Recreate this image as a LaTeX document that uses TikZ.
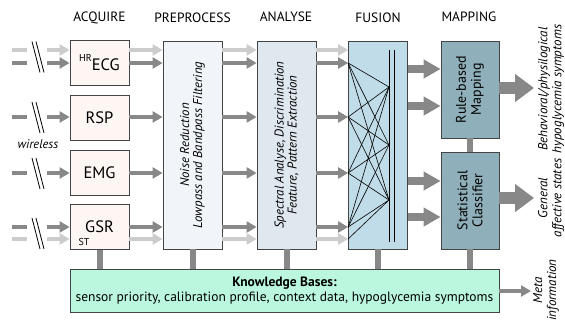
\documentclass[tikz,border=0pt]{standalone}
\usepackage{fontspec}
\setmainfont{PT Sans}
\usetikzlibrary{arrows.meta,positioning}
\definecolor{light}{HTML}{CCCCCC}
\definecolor{dark}{HTML}{888888}
\definecolor{boxline}{HTML}{444444}
\definecolor{acqfill}{HTML}{FDF6F3}
\definecolor{prefill}{HTML}{F1F5F9}
\definecolor{anafill}{HTML}{DFE7EF}
\definecolor{fusfill}{HTML}{BFDCE8}
\definecolor{mapfill}{HTML}{8FB0BA}
\definecolor{kbfill}{HTML}{BBF7DF}
\tikzset{
  box/.style={draw=boxline, line width=0.8pt, inner sep=0pt},
  acqbox/.style={box, fill=acqfill, minimum width=59pt, minimum height=45pt, font=\fontsize{16.5}{18}\selectfont},
  stagebox/.style={box, minimum width=59pt, minimum height=208pt},
  mapbox/.style={box, fill=mapfill, minimum width=58pt, minimum height=97pt},
  head/.style={font=\fontsize{13.5}{15}\selectfont},
  vtext/.style={rotate=90, align=center, font=\fontsize{12.8}{13}\selectfont\itshape},
  sig/.style={line width=4.5pt, -{Triangle[length=10pt,width=11pt]}},
  stub/.style={line width=4.5pt},
  bigsig/.style={line width=8pt, -{Triangle[length=17pt,width=18pt]}},
  outsig/.style={line width=12pt, -{Triangle[length=19pt,width=27pt]}},
  bar/.style={dark, line width=6pt},
}
\begin{document}
\begin{tikzpicture}[x=1pt, y=-1pt]
  \useasboundingbox (0,0) rectangle (565,320);
  % Boxes
  \node[acqbox] (ecg) at (99.5,63) {\raisebox{1.1ex}{\fontsize{10}{10}\selectfont HR}ECG};
  \node[acqbox] (rsp) at (99.5,117.5) {RSP};
  \node[acqbox] (emg) at (99.5,172.5) {EMG};
  \node[acqbox] (gsr) at (99.5,227) {GSR};
  \node[font=\fontsize{10}{10}\selectfont] (st) at (84,242) {ST};
  \node[stagebox, fill=prefill] (pre) at (192.5,145) {};
  \node[stagebox, fill=anafill] (ana) at (286.5,145) {};
  \node[stagebox, fill=fusfill] (fus) at (378,145) {};
  \node[mapbox] (rule) at (470,89.5) {};
  \node[mapbox] (stat) at (470,200.5) {};
  \node[box, fill=kbfill, minimum width=429pt, minimum height=43pt, align=center,
        font=\fontsize{13.5}{15}\selectfont] (kb) at (284.5,290.5)
        {\textbf{Knowledge Bases:}\\sensor priority, calibration profile, context data, hypoglycemia symptoms};
  % Box texts
  \node[vtext] (pretxt) at (pre) {Noise Reduction\\Lowpass and Bandpass Filtering};
  \node[vtext] (anatxt) at (ana) {Spectral Analyse, Discrimination\\Feature, Pattern Extraction};
  \node[vtext, font=\fontsize{14}{15}\selectfont] (ruletxt) at (rule) {Rule-based\\Mapping};
  \node[vtext, font=\fontsize{14}{15}\selectfont] (stattxt) at (stat) {Statistical\\Classifier};
  % Headers
  \node[head] (h1) at (99.5,18) {ACQUIRE};
  \node[head] (h2) at (192.5,18) {PREPROCESS};
  \node[head] (h3) at (286,17) {ANALYSE};
  \node[head] (h4) at (378,18) {FUSION};
  \node[head] (h5) at (469,17) {MAPPING};
  % Signals
  \foreach \y/\c/\s in {50/light/ecg,63/dark/ecg,117/dark/rsp,173/dark/emg,227/dark/gsr,239/light/gsr} {
    \coordinate (a\y) at (12,\y);
    \coordinate (b\y) at (27,\y);
    \coordinate (in\y) at (47,\y);
    \draw[stub,\c] (a\y) -- (b\y);
    \draw[sig,\c] (in\y) -- (\s.west |- 0,\y);
    \draw[sig,\c] (\s.east |- 0,\y) -- (pre.west |- 0,\y);
    \draw[sig,\c] (pre.east |- 0,\y) -- (ana.west |- 0,\y);
    \draw[sig,\c] (ana.east |- 0,\y) -- (fus.west |- 0,\y);
  }
  % Wireless breaks
  \foreach \y in {56.5,117,173,233} {
    \draw[line width=0.8pt] (32,\y-15) -- (40,\y+16);
    \draw[line width=0.8pt] (36,\y-15) -- (44,\y+16);
  }
  \node[font=\fontsize{12.5}{13}\selectfont\itshape] (wl) at (38,144) {wireless};
  % Fusion net
  \draw[line width=0.8pt] (389,50) -- (389,242);
  \draw[line width=0.8pt] (394,50) -- (394,242);
  \foreach \b in {87,145,200}
    \coordinate (f\b) at (389,\b);
  \foreach \a in {63,117,173,227}
    \foreach \b in {87,145,200}
      \draw[line width=0.6pt] (fus.west |- 0,\a) -- (f\b);
  \draw[line width=0.6pt] (fus.west |- 0,239) -- (f200);
  % Fusion to mapping
  \foreach \y in {69,106}
    \draw[bigsig, dark] (fus.east |- 0,\y) -- (rule.west |- 0,\y);
  \foreach \y in {181,217}
    \draw[bigsig, dark] (fus.east |- 0,\y) -- (stat.west |- 0,\y);
  \draw[bar] (rule.south) -- (stat.north);
  % Outputs
  \coordinate (o1) at (534,88);
  \coordinate (o2) at (534,198);
  \coordinate (o3) at (531,291);
  \draw[outsig, dark] (rule.east |- o1) -- (o1);
  \draw[outsig, dark] (stat.east |- o2) -- (o2);
  \draw[sig, dark] (kb.east |- o3) -- (o3);
  \node[vtext, font=\fontsize{13}{14}\selectfont\itshape] (out1) at (551,89) {Behavioral/physilogical\\hypoglycemia symptoms};
  \node[vtext, font=\fontsize{13}{14}\selectfont\itshape] (out2) at (551,198) {General\\affective states};
  \node[vtext, font=\fontsize{13}{14}\selectfont\itshape] (out3) at (546,290) {Meta\\information};
  % Links to knowledge bases
  \foreach \s in {gsr,pre,ana,fus,stat}
    \draw[bar] (\s.south) -- (kb.north -| \s.south);
\end{tikzpicture}
\end{document}
